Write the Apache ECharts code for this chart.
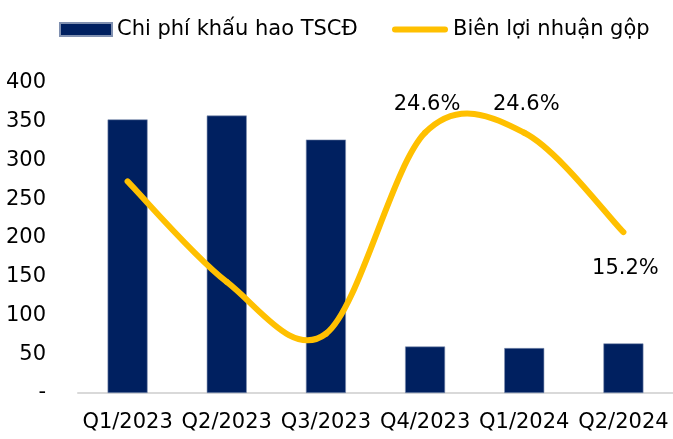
<!DOCTYPE html>
<html>
<head>
<meta charset="utf-8">
<style>
  html, body { margin: 0; padding: 0; background: #fff; }
  #chart { width: 673px; height: 439px; }
</style>
<script src="https://cdn.jsdelivr.net/npm/echarts@6/dist/echarts.min.js"></script>
</head>
<body>
<div id="chart"></div>
<script>
const categories = ['Q1/2023', 'Q2/2023', 'Q3/2023', 'Q4/2023', 'Q1/2024', 'Q2/2024'];
const depreciation = [353, 358, 327, 60, 58, 64];
const grossMargin = [20.0, 10.5, 5.6, 24.6, 24.6, 15.2];
// which margin points carry a label, and where
const labelPos = [null, null, null, 'top', 'top', 'bottom'];

const barName = 'Chi phí khấu hao TSCĐ';
const lineName = 'Biên lợi nhuận gộp';
const font = 'DejaVu Sans';
const yellow = '#ffc000';

const chart = echarts.init(document.getElementById('chart'));

// Excel-style smoothed line: cubic bezier per segment, control points from neighbours
function renderMargin(params, api) {
  const i = params.dataIndex;
  const n = grossMargin.length;
  const pt = (k) => {
    const j = Math.max(0, Math.min(n - 1, k));
    return api.coord([j, grossMargin[j]]);
  };
  const children = [];
  if (i < n - 1) {
    const p0 = pt(i - 1), p1 = pt(i), p2 = pt(i + 1), p3 = pt(i + 2);
    const t = 1 / 6;
    children.push({
      type: 'bezierCurve',
      shape: {
        x1: p1[0], y1: p1[1],
        x2: p2[0], y2: p2[1],
        cpx1: p1[0] + (p2[0] - p0[0]) * t,
        cpy1: p1[1] + (p2[1] - p0[1]) * t,
        cpx2: p2[0] - (p3[0] - p1[0]) * t,
        cpy2: p2[1] - (p3[1] - p1[1]) * t,
      },
      style: { stroke: yellow, lineWidth: 6, fill: null, lineCap: 'round' },
    });
  }
  if (labelPos[i]) {
    const p = pt(i);
    children.push({
      type: 'text',
      x: p[0] + 2,
      y: labelPos[i] === 'top' ? p[1] - 28 : p[1] + 36,
      style: {
        text: grossMargin[i].toFixed(1) + '%',
        font: '21px ' + font,
        fill: '#000',
        align: 'center',
        verticalAlign: 'middle',
      },
    });
  }
  return { type: 'group', children };
}

const option = {
  animation: false,
  textStyle: { fontFamily: font },
  legend: [
    {
      data: [{ name: barName, icon: 'rect' }],
      left: 54,
      top: 14,
      itemWidth: 52,
      itemHeight: 13,
      textStyle: { fontSize: 21, color: '#000', fontFamily: font },
    },
    {
      data: [{ name: lineName, icon: 'path://M3,0 L53,0 A3,3 0 0 1 53,6 L3,6 A3,3 0 0 1 3,0 Z' }],
      left: 387,
      top: 14,
      itemWidth: 56,
      itemHeight: 6,
      textStyle: { fontSize: 21, color: '#000', fontFamily: font },
    },
  ],
  grid: { left: 78, top: 83, width: 597, height: 310 },
  xAxis: {
    type: 'category',
    data: categories,
    axisLine: { lineStyle: { color: '#d9d9d9', width: 2 } },
    axisTick: { show: false },
    axisLabel: { color: '#000', fontSize: 21, margin: 19, interval: 0 },
  },
  yAxis: [
    {
      type: 'value',
      min: 0,
      max: 400,
      interval: 50,
      splitLine: { show: false },
      axisLine: { show: false },
      axisTick: { show: false },
      axisLabel: {
        color: '#000',
        fontSize: 21,
        margin: 32,
        formatter: (v) => (v === 0 ? '-' : v),
      },
    },
    {
      type: 'value',
      min: 0,
      max: 29.3,
      show: false,
      splitLine: { show: false },
    },
  ],
  series: [
    {
      name: barName,
      type: 'bar',
      data: depreciation,
      barWidth: 40,
      itemStyle: { color: '#002060', borderColor: '#8090b0', borderWidth: 0.6 },
    },
    {
      name: lineName,
      type: 'custom',
      yAxisIndex: 1,
      itemStyle: { color: yellow },
      encode: { x: 0, y: 1 },
      data: grossMargin.map((v, i) => [i, v]),
      renderItem: renderMargin,
      z: 3,
    },
  ],
};

chart.setOption(option);
</script>
</body>
</html>
